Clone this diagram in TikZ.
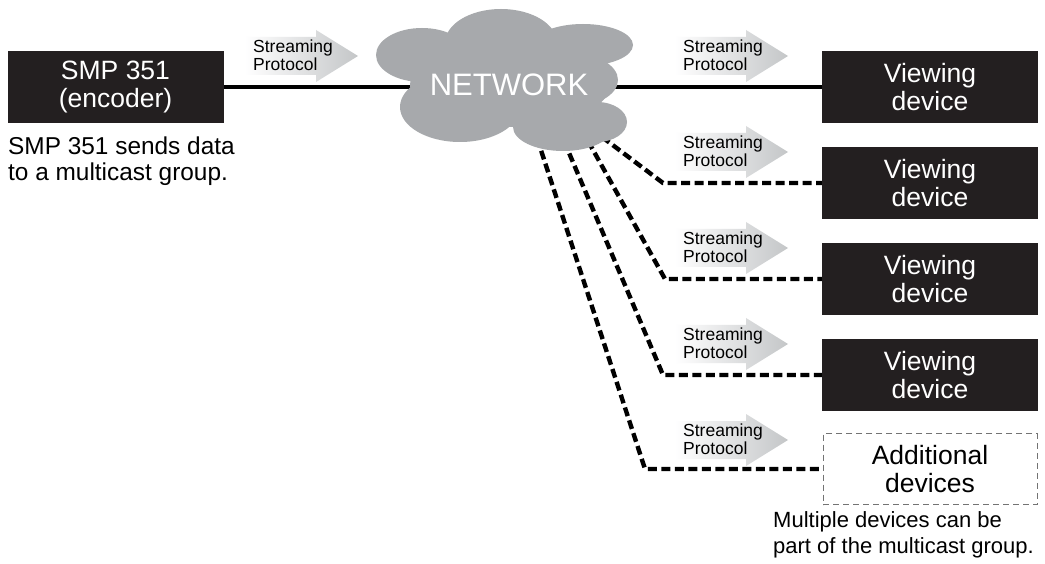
\documentclass[tikz,border=0pt]{standalone}
\usepackage{fontspec}
\setmainfont{Liberation Sans}
\usetikzlibrary{positioning}
\definecolor{boxblack}{RGB}{35,31,32}
\definecolor{cloudgray}{RGB}{167,169,172}
\definecolor{arrowgray}{RGB}{196,198,200}

\begin{document}
\begin{tikzpicture}[x=1pt, y=-1pt,
  devbox/.style={fill=boxblack, text=white, minimum width=216pt, minimum height=72pt,
    align=center, inner sep=0pt, font=\fontsize{26.5}{28}\selectfont},
  extrabox/.style={draw=black!55, dash pattern=on 6pt off 4pt, line width=0.8pt,
    minimum width=214pt, minimum height=71pt, align=center, inner sep=0pt,
    font=\fontsize{26.5}{28}\selectfont},
  protolabel/.style={anchor=west, align=left, inner sep=0pt, font=\fontsize{17.5}{17.5}\selectfont},
  note/.style={anchor=north west, align=left, inner sep=0pt},
  link/.style={line width=3.4pt},
  feed/.style={line width=4.4pt, dash pattern=on 9pt off 4.5pt},
  lobe/.style={fill=cloudgray}
]
  \fill[white] (0,0) rectangle (1045,564);
  \useasboundingbox (0,0) rectangle (1045,564);

  % Encoder and its note
  \node[devbox] (enc) at (115.5,87) {SMP 351\\(encoder)};
  \node[note, font=\fontsize{24.4}{26}\selectfont] (encnote) at (8,136.5)
    {SMP 351 sends data\\to a multicast group.};

  % Streaming arrows
  \shade[left color=white, right color=arrowgray]
    (245,56-19) -- ++(71,0) -- ++(0,-7) -- (358,56) -- (316,56+26) -- ++(0,-7) -- (245,56+19) -- cycle;
  \node[protolabel] (proto0) at (253,55) {Streaming\\Protocol};
  \foreach \ay [count=\i] in {56,152,248,344,440} {
    \shade[left color=white, right color=arrowgray]
      (675,\ay-19) -- ++(71,0) -- ++(0,-7) -- (788,\ay) -- (746,\ay+26) -- ++(0,-7) -- (675,\ay+19) -- cycle;
    \node[protolabel] (proto\i) at (683,\ay-1) {Streaming\\Protocol};
  }

  % Viewing devices
  \node[devbox] (dev1) at (930,87) {Viewing\\device};
  \node[devbox] (dev2) at (930,183) {Viewing\\device};
  \node[devbox] (dev3) at (930,279) {Viewing\\device};
  \node[devbox] (dev4) at (930,375) {Viewing\\device};
  \node[extrabox] (extra) at (930,469) {Additional\\devices};
  \node[note, font=\fontsize{22}{26.5}\selectfont] (extranote) at (773,511)
    {Multiple devices can be\\part of the multicast group.};

  % Connectors (behind the cloud)
  \coordinate (tap1) at (602,137);
  \coordinate (tap2) at (588,141);
  \coordinate (tap3) at (564,141);
  \coordinate (tap4) at (537,138);
  \coordinate (bend1) at (663,183);
  \coordinate (bend2) at (665,279);
  \coordinate (bend3) at (663,375);
  \coordinate (bend4) at (645,469);
  \draw[link] (enc) -- (dev1);
  \draw[feed] (tap1) -- (bend1) -- (dev2.west);
  \draw[feed] (tap2) -- (bend2) -- (dev3.west);
  \draw[feed] (tap3) -- (bend3) -- (dev4.west);
  \draw[feed] (tap4) -- (bend4) -- (extra.west);

  % Cloud
  \fill[lobe] (422,55) ellipse (46 and 27);
  \fill[lobe] (501,43) ellipse (56 and 34);
  \fill[lobe] (583,45) ellipse (50 and 21);
  \fill[lobe] (570,80) ellipse (48 and 27);
  \fill[lobe] (597,122) ellipse (30 and 20);
  \fill[lobe] (563,127) ellipse (50 and 24);
  \fill[lobe] (460,107) ellipse (60 and 35);
  \fill[lobe] (510,85) ellipse (100 and 42);
  \node[text=white, font=\fontsize{31}{31}\selectfont] (net) at (509,85) {NETWORK};
\end{tikzpicture}
\end{document}
